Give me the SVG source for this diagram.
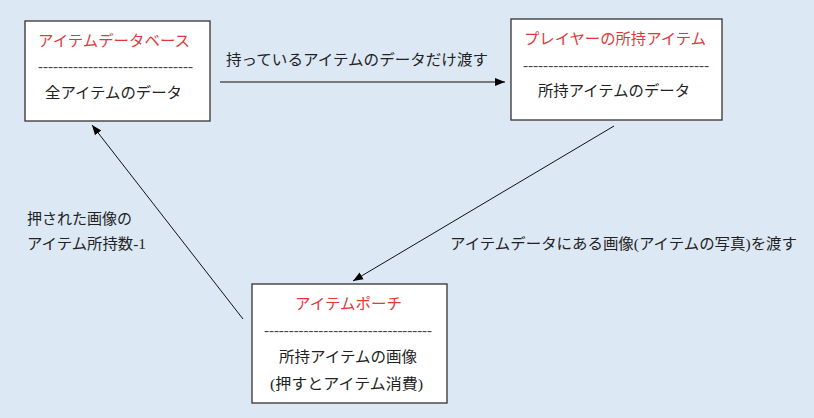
<svg xmlns="http://www.w3.org/2000/svg" width="814" height="418" viewBox="0 0 814 418">
<style>
text{font-family:"Liberation Serif","Noto Sans CJK JP",serif;font-size:15px;fill:#222}
.t{fill:#e0383a}
.box{fill:#fff;stroke:#333;stroke-width:1.3}
.dash{fill:#444}
.c{fill:none;stroke:#111;stroke-width:1}
</style>
<defs>
<marker id="ah" viewBox="0 0 10 10" refX="10" refY="5" markerWidth="10" markerHeight="10" markerUnits="userSpaceOnUse" orient="auto">
<path d="M0,1 L10,5 L0,9 Z" fill="#000"/>
</marker>
</defs>
<rect width="814" height="418" fill="#dde8f5"/>
<g id="connectors">
<line class="c" x1="220" y1="82" x2="505" y2="82" style="stroke:#555;stroke-width:1.5" marker-end="url(#ah)"/>
<line class="c" x1="614" y1="126" x2="353" y2="281" marker-end="url(#ah)"/>
<line class="c" x1="243" y1="319" x2="92" y2="125" marker-end="url(#ah)"/>
<text x="226" y="65" textLength="262" lengthAdjust="spacingAndGlyphs">持っているアイテムのデータだけ渡す</text>
<text x="27" y="224" textLength="105" lengthAdjust="spacingAndGlyphs">押された画像の</text>
<text x="27" y="249" textLength="119" lengthAdjust="spacingAndGlyphs">アイテム所持数-1</text>
<text x="450" y="249" textLength="347" lengthAdjust="spacingAndGlyphs">アイテムデータにある画像(アイテムの写真)を渡す</text>
</g>
<g id="item-database">
<rect class="box" x="25" y="21" width="185" height="100"/>
<text class="t" x="38" y="46" textLength="152" lengthAdjust="spacingAndGlyphs">アイテムデータベース</text>
<text class="dash" x="38" y="71" textLength="155" lengthAdjust="spacingAndGlyphs">-------------------------------</text>
<text x="45" y="98" textLength="137" lengthAdjust="spacingAndGlyphs">全アイテムのデータ</text>
</g>
<g id="player-items">
<rect class="box" x="511" y="19" width="211" height="101"/>
<text class="t" x="524" y="44" textLength="182" lengthAdjust="spacingAndGlyphs">プレイヤーの所持アイテム</text>
<text class="dash" x="523" y="70" textLength="186" lengthAdjust="spacingAndGlyphs">-------------------------------------</text>
<text x="538" y="96" textLength="152" lengthAdjust="spacingAndGlyphs">所持アイテムのデータ</text>
</g>
<g id="item-pouch">
<rect class="box" x="252" y="284" width="195" height="119"/>
<text class="t" x="295" y="309" textLength="107" lengthAdjust="spacingAndGlyphs">アイテムポーチ</text>
<text class="dash" x="264" y="335" textLength="168" lengthAdjust="spacingAndGlyphs">----------------------------------</text>
<text x="279" y="362" textLength="138" lengthAdjust="spacingAndGlyphs">所持アイテムの画像</text>
<text x="270" y="389" textLength="153" lengthAdjust="spacingAndGlyphs">(押すとアイテム消費)</text>
</g>
</svg>
